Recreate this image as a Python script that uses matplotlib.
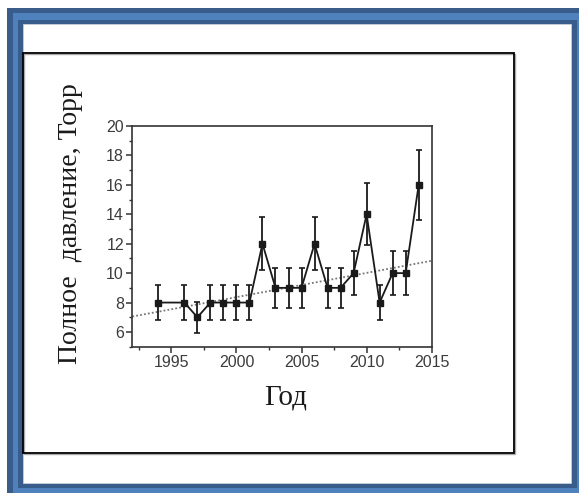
import matplotlib
matplotlib.use("Agg")
import matplotlib.pyplot as plt
from matplotlib.patches import Rectangle
from matplotlib.ticker import MultipleLocator

# total pressure by year with error bars
years = [1994, 1996, 1997, 1998, 1999, 2000, 2001, 2002, 2003, 2004,
         2005, 2006, 2007, 2008, 2009, 2010, 2011, 2012, 2013, 2014]
pressure = [8, 8, 7, 8, 8, 8, 8, 12, 9, 9,
            9, 12, 9, 9, 10, 14, 8, 10, 10, 16]
errors = [1.2, 1.2, 1.05, 1.2, 1.2, 1.2, 1.2, 1.8, 1.35, 1.35,
          1.35, 1.8, 1.35, 1.35, 1.5, 2.1, 1.2, 1.5, 1.5, 2.4]

# linear trend, end points
trend_years = [1992, 2015]
trend_vals = [7.05, 10.84]

x_ticks = [1995, 2000, 2005, 2010, 2015]
y_ticks = [6, 8, 10, 12, 14, 16, 18, 20]

W, H = 579, 493
fig = plt.figure(figsize=(W / 100, H / 100), dpi=100)
fig.patch.set_facecolor("white")


def px_rect(x0, y0, x1, y1, **kw):
    # rectangle given in pixel coords measured from the top-left corner
    r = Rectangle((x0 / W, 1 - y1 / H), (x1 - x0) / W, (y1 - y0) / H,
                  transform=fig.transFigure, **kw)
    fig.add_artist(r)
    return r


dark_blue = "#385d8a"
light_blue = "#4f81bd"
px_rect(7, 8, 700, 700, facecolor=dark_blue, edgecolor="none", zorder=0)
px_rect(13, 13, 700, 700, facecolor=light_blue, edgecolor="none", zorder=0)
px_rect(18, 20, 577, 488, facecolor=dark_blue, edgecolor="none", zorder=0)
px_rect(22.7, 24, 570.7, 482.7, facecolor="white", edgecolor="#c8d0da",
        linewidth=0.6, zorder=0)
# inner frame with a faint shadow
px_rect(23.5, 53.5, 515, 453.7, facecolor="none", edgecolor="#aaaaaa",
        linewidth=1.0, zorder=1)
px_rect(22.7, 52.7, 514, 452.7, facecolor="none", edgecolor="black",
        linewidth=1.3, zorder=1)

ax = fig.add_axes([132.3 / W, 1 - 346.7 / H, (431.7 - 132.3) / W,
                   (346.7 - 126) / H])
ax.set_facecolor("white")
ax.set_zorder(2)

ax.plot(trend_years, trend_vals, linestyle=(0, (1, 1.2)), color="#777777",
        linewidth=1.3, zorder=2)
ax.errorbar(years, pressure, yerr=errors, fmt="-s", color="#1a1a1a",
            ecolor="#1a1a1a", elinewidth=1.3, capsize=2.2, capthick=1.2,
            linewidth=1.3, markersize=4, zorder=3)

ax.set_xlim(1992, 2015)
ax.set_ylim(5, 20)
ax.set_xticks(x_ticks)
ax.set_yticks(y_ticks)
ax.xaxis.set_minor_locator(MultipleLocator(2.5))
ax.yaxis.set_minor_locator(MultipleLocator(1))

for s in ax.spines.values():
    s.set_color("#333333")
    s.set_linewidth(1.2)

ax.tick_params(which="major", direction="out", length=4, width=1.1,
               color="#333333", labelsize=11.5, labelcolor="#3c3c3c", pad=2)
ax.tick_params(which="minor", direction="out", length=2.5, width=1.0,
               color="#333333")
for lab in ax.get_xticklabels() + ax.get_yticklabels():
    lab.set_family("Liberation Sans")

fig.text(71 / W, 1 - 224 / H, "Полное  давление, Торр", rotation=90,
         ha="center", va="center", family="Liberation Serif", fontsize=20,
         color="#1a1a1a")
fig.text(286 / W, 1 - 397 / H, "Год", ha="center", va="center",
         family="Liberation Serif", fontsize=21, color="#1a1a1a")

fig.savefig("out.png", dpi=100)
